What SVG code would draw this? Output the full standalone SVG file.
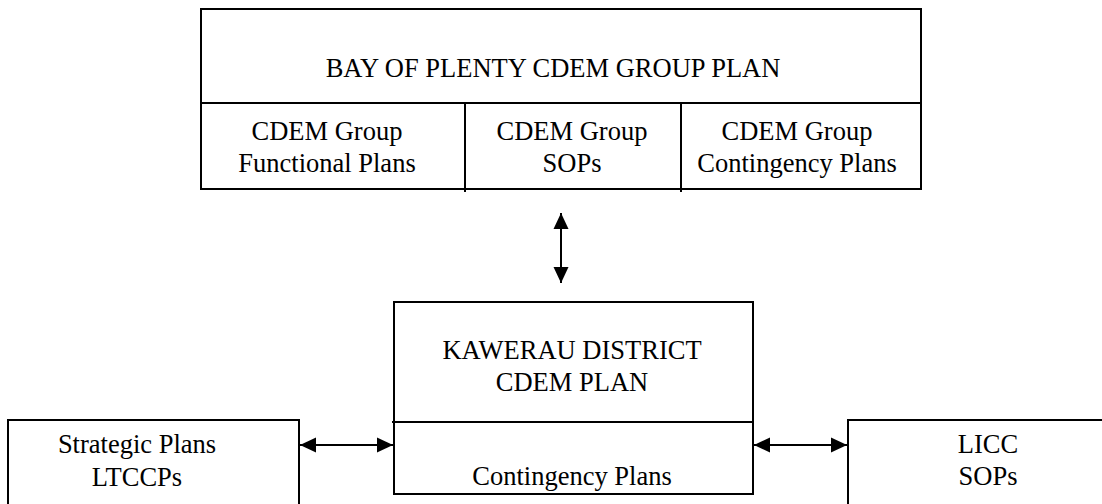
<svg xmlns="http://www.w3.org/2000/svg" width="1102" height="504" viewBox="0 0 1102 504">
  <style>
    .box { fill: #ffffff; stroke: #000000; stroke-width: 2; }
    .ln { fill: none; stroke: #000000; stroke-width: 2; }
    .conn { fill: none; stroke: #000000; stroke-width: 2; }
    .t { font-family: 'Liberation Serif', 'Times New Roman', Times, serif; font-size: 26.5px; fill: #000000; text-anchor: middle; }
  </style>
  <defs>
    <marker id="ah" markerUnits="userSpaceOnUse" markerWidth="17" markerHeight="16" refX="16" refY="8" orient="auto-start-reverse">
      <path d="M0,0.5 L16,8 L0,15.5 Z" fill="#000000"/>
    </marker>
  </defs>
  <rect width="1102" height="504" fill="#ffffff"/>

  <g id="node-group-plan">
    <rect class="box" x="201" y="9" width="720" height="180"/>
    <line class="ln" x1="201" y1="103" x2="921" y2="103"/>
    <line class="ln" x1="465" y1="103" x2="465" y2="192"/>
    <line class="ln" x1="681" y1="103" x2="681" y2="192"/>
    <text class="t" font-family="Liberation Serif, serif" x="553" y="77">BAY OF PLENTY CDEM GROUP PLAN</text>
    <text class="t" font-family="Liberation Serif, serif" x="327" y="140">CDEM Group</text>
    <text class="t" font-family="Liberation Serif, serif" x="327" y="172">Functional Plans</text>
    <text class="t" font-family="Liberation Serif, serif" x="572" y="140">CDEM Group</text>
    <text class="t" font-family="Liberation Serif, serif" x="572" y="172">SOPs</text>
    <text class="t" font-family="Liberation Serif, serif" x="797" y="140">CDEM Group</text>
    <text class="t" font-family="Liberation Serif, serif" x="797" y="172">Contingency Plans</text>
  </g>

  <g id="node-district-plan">
    <rect class="box" x="394" y="302" width="359" height="192"/>
    <line class="ln" x1="392" y1="422" x2="753" y2="422"/>
    <text class="t" font-family="Liberation Serif, serif" x="572" y="359">KAWERAU DISTRICT</text>
    <text class="t" font-family="Liberation Serif, serif" x="572" y="391">CDEM PLAN</text>
    <text class="t" font-family="Liberation Serif, serif" x="572" y="485">Contingency Plans</text>
  </g>

  <g id="node-strategic">
    <path class="ln" d="M8,506 L8,420 L299,420 L299,506"/>
    <text class="t" font-family="Liberation Serif, serif" x="137" y="453">Strategic Plans</text>
    <text class="t" font-family="Liberation Serif, serif" x="137" y="486">LTCCPs</text>
  </g>

  <g id="node-licc">
    <path class="ln" d="M848,506 L848,420 L1104,420"/>
    <text class="t" font-family="Liberation Serif, serif" x="988" y="453">LICC</text>
    <text class="t" font-family="Liberation Serif, serif" x="988" y="485">SOPs</text>
  </g>

  <g id="connectors">
    <line class="conn" x1="561" y1="213" x2="561" y2="283" marker-start="url(#ah)" marker-end="url(#ah)"/>
    <line class="conn" x1="300" y1="445" x2="393" y2="445" marker-start="url(#ah)" marker-end="url(#ah)"/>
    <line class="conn" x1="754" y1="445" x2="847" y2="445" marker-start="url(#ah)" marker-end="url(#ah)"/>
  </g>
</svg>
